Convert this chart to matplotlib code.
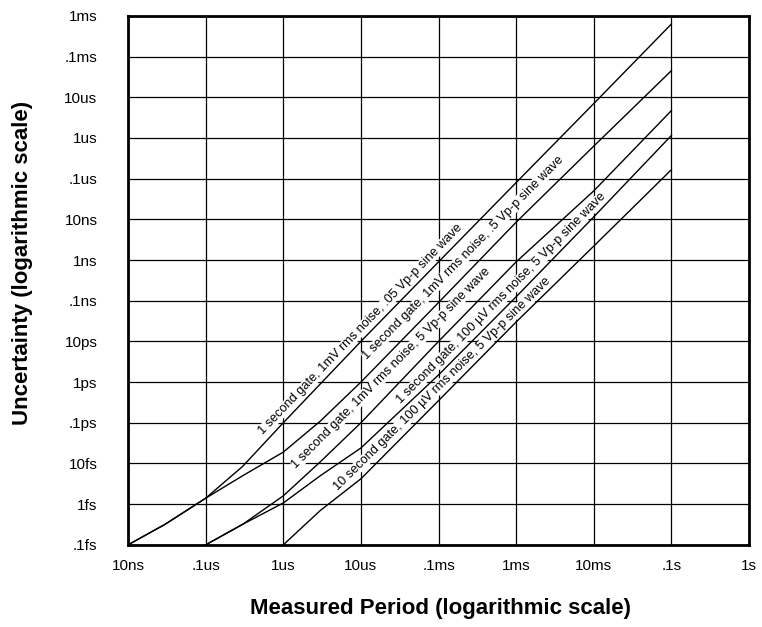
import numpy as np
import matplotlib.pyplot as plt

# period (s) and uncertainty (s), one pair per curve
c1_x = [1e-8, 3e-8, 1e-7, 3e-7, 1e-6, 1e-5, 1e-4, 1e-3, 1e-2, 1e-1]
c1_y = [1e-16, 3.2e-16, 1.4e-15, 8.5e-15, 1e-13, 1e-11, 9e-10, 8e-8, 7e-6, 6.3e-4]

c2_x = [1e-8, 3e-8, 1e-7, 3e-7, 1e-6, 3e-6, 1e-5, 1e-4, 1e-3, 1e-2, 1e-1]
c2_y = [1e-16, 3.2e-16, 1.4e-15, 5e-15, 1.9e-14, 1.1e-13, 1e-12, 9e-11, 8.5e-9, 6.3e-7, 4.5e-5]

c3_x = [1e-7, 3e-7, 1e-6, 3e-6, 1e-5, 1e-4, 1e-3, 1e-2, 1e-1]
c3_y = [1e-16, 3.2e-16, 1.6e-15, 1.1e-14, 1e-13, 1e-11, 9e-10, 5e-8, 4.7e-6]

c4_x = [1e-7, 3e-7, 1e-6, 3e-6, 1e-5, 1e-4, 1e-3, 1e-2, 1e-1]
c4_y = [1e-16, 3.2e-16, 1.07e-15, 5e-15, 2.4e-14, 1.5e-12, 1.25e-10, 1.15e-8, 1.15e-6]

c5_x = [1e-6, 3e-6, 1e-5, 1e-4, 1e-3, 1e-2, 1e-1]
c5_y = [1e-16, 7e-16, 4.2e-15, 3.5e-13, 3e-11, 2.2e-9, 1.66e-7]

curve_labels = [
    "1 second gate, 1mV rms noise, .05 Vp-p sine wave",
    "1 second gate, 1mV rms noise, .5 Vp-p sine wave",
    "1 second gate, 1mV rms noise, 5 Vp-p sine wave",
    "1 second gate, 100 \u00b5V rms noise, 5 Vp-p sine wave",
    "10 second gate, 100 \u00b5V rms noise, 5 Vp-p sine wave",
]
# period where each label starts, and its gap above the curve (points)
label_start = [6.3e-7, 1.5e-5, 1.85e-6, 3.6e-5, 5.6e-6]
label_gap = [2.5, 6.0, 6.0, 1.0, 1.2]

x_ticks = [1e-8, 1e-7, 1e-6, 1e-5, 1e-4, 1e-3, 1e-2, 1e-1, 1e0]
x_tick_labels = ["10ns", ".1us", "1us", "10us", ".1ms", "1ms", "10ms", ".1s", "1s"]
y_ticks = [1e-16, 1e-15, 1e-14, 1e-13, 1e-12, 1e-11, 1e-10, 1e-9, 1e-8,
           1e-7, 1e-6, 1e-5, 1e-4, 1e-3]
y_tick_labels = [".1fs", "1fs", "10fs", ".1ps", "1ps", "10ps", ".1ns", "1ns",
                 "10ns", ".1us", "1us", "10us", ".1ms", "1ms"]

plt.rcParams['font.family'] = ['Liberation Sans', 'DejaVu Sans']

fig = plt.figure(figsize=(7.62, 6.27), dpi=100)
ax = fig.add_axes([0.168, 0.131, 0.815, 0.8437])

curves = [(c1_x, c1_y), (c2_x, c2_y), (c3_x, c3_y), (c4_x, c4_y), (c5_x, c5_y)]
for cx, cy in curves:
    ax.plot(cx, cy, color="black", lw=1.0, zorder=3)

ax.set_xscale("log")
ax.set_yscale("log")
ax.set_xlim(1e-8, 1e0)
ax.set_ylim(1e-16, 1e-3)
ax.set_xticks(x_ticks, x_tick_labels)
ax.set_yticks(y_ticks, y_tick_labels)
ax.minorticks_off()
ax.tick_params(axis="both", length=0, labelsize=11)
ax.tick_params(axis="y", pad=22)
ax.tick_params(axis="x", pad=10)
ax.grid(True, color="black", lw=0.9)
for s in ax.spines.values():
    s.set_linewidth(2)
    s.set_zorder(4)


def on_curve(cx, cy, x):
    # position on the drawn (log-log) polyline, used only to place the label
    return 10 ** np.interp(np.log10(x), np.log10(cx), np.log10(cy))


for txt, (cx, cy), x0, d in zip(curve_labels, curves, label_start, label_gap):
    x1 = x0 * 10 ** 2.75
    p0 = ax.transData.transform((x0, on_curve(cx, cy, x0)))
    p1 = ax.transData.transform((x1, on_curve(cx, cy, x1)))
    ang = np.degrees(np.arctan2(p1[1] - p0[1], p1[0] - p0[0]))
    off = (-np.sin(np.radians(ang)) * d, np.cos(np.radians(ang)) * d)
    ax.annotate(txt, (x0, on_curve(cx, cy, x0)), xytext=off,
                textcoords="offset points", rotation=ang,
                rotation_mode="anchor", ha="left", va="bottom",
                fontsize=9.2, zorder=2.5,
                bbox=dict(facecolor="white", edgecolor="none", pad=0.1))

fig.text(0.578, 0.012, "Measured Period (logarithmic scale)", ha="center",
         va="bottom", fontsize=16, fontweight="bold")
fig.text(0.03, 0.58, "Uncertainty (logarithmic scale)", ha="center",
         va="center", rotation=90, fontsize=16, fontweight="bold")

fig.savefig("out.png", dpi=100)
